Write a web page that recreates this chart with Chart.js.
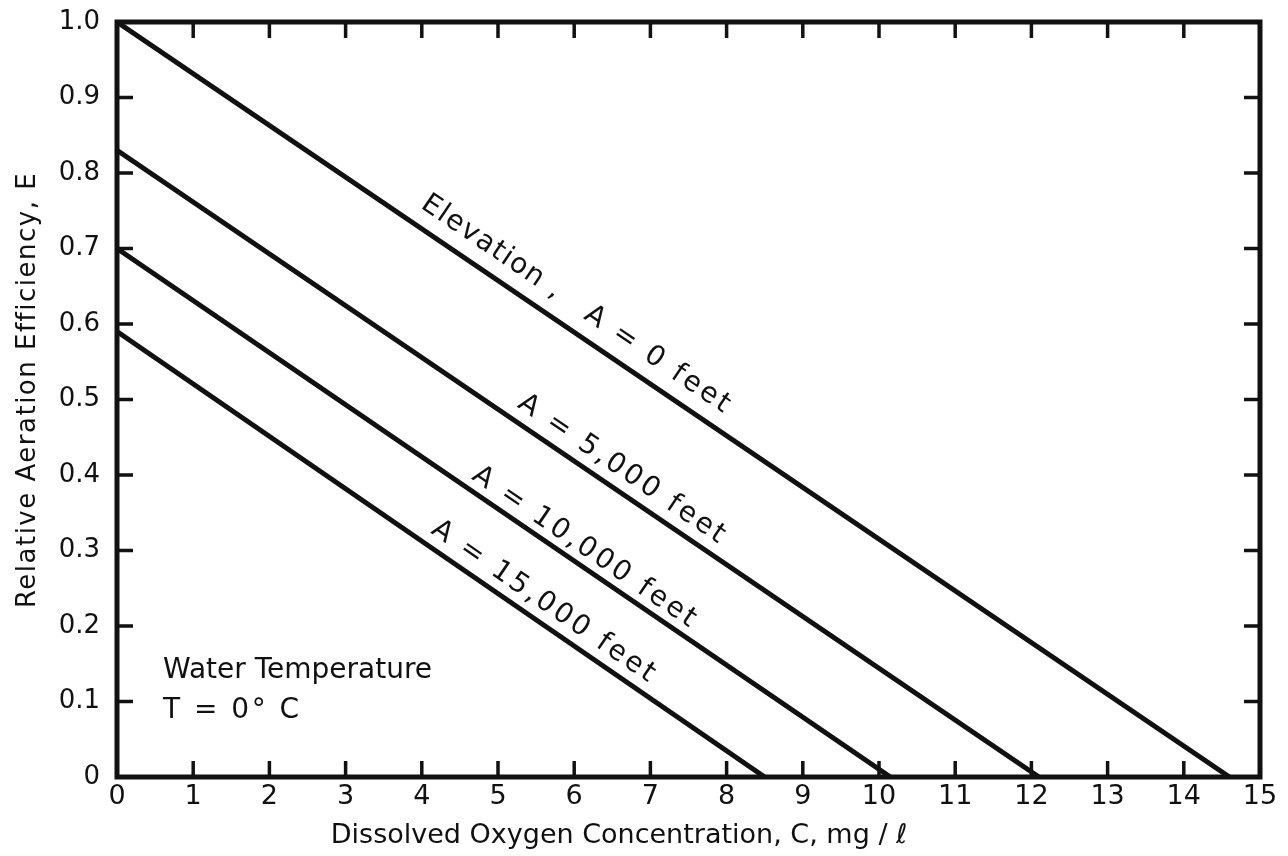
<!DOCTYPE html>
<html>
<head>
<meta charset="utf-8">
<title>Relative Aeration Efficiency vs Dissolved Oxygen</title>
<script src="https://cdn.jsdelivr.net/npm/chart.js@4.4.1/dist/chart.umd.min.js"></script>
<style>
  html, body { margin: 0; padding: 0; background: #ffffff; }
  #wrap { width: 1288px; height: 856px; }
</style>
</head>
<body>
<div id="wrap"><canvas id="chart" width="1288" height="856"></canvas></div>
<script>
// Tick labels
const xTickLabels = ['0','1','2','3','4','5','6','7','8','9','10','11','12','13','14','15'];
const yTickLabels = ['0','0.1','0.2','0.3','0.4','0.5','0.6','0.7','0.8','0.9','1.0'];

// One straight line per elevation: efficiency at C = 0 and the concentration where E reaches 0
const elevationsFt       = ['0', '5,000', '10,000', '15,000'];
const efficiencyAtZeroDO = [1.00, 0.83, 0.70, 0.59];
const doAtZeroEfficiency = [14.6, 12.1, 10.15, 8.5];

const INK = '#111111';
const FONT = '"DejaVu Sans", "Liberation Sans", sans-serif';

// Labels written along the lines: which line, where along it (in mg/l), gap above it (px)
const lineNotes = [
  { line: 0, text: 'Elevation ,',     at: 3.85, gap: 24, spacing: '1.5px' },
  { line: 0, text: 'A = 0 feet',      at: 5.99, gap: 24, spacing: '3px' },
  { line: 1, text: 'A = 5,000 feet',  at: 5.15, gap: 20, spacing: '3px' },
  { line: 2, text: 'A = 10,000 feet', at: 4.57, gap: 17, spacing: '3px' },
  { line: 3, text: 'A = 15,000 feet', at: 4.02, gap: 19, spacing: '3px' }
];

const datasets = elevationsFt.map((elev, i) => ({
  label: 'A = ' + elev + ' feet',
  data: [
    { x: 0, y: efficiencyAtZeroDO[i] },
    { x: doAtZeroEfficiency[i], y: 0 }
  ],
  borderColor: INK,
  borderWidth: 5,
  pointRadius: 0,
  tension: 0,
  fill: false
}));

// Inward tick marks on all four sides plus the heavy frame
const framePlugin = {
  id: 'frame',
  afterDatasetsDraw(chart) {
    const { ctx, chartArea: a, scales: { x, y } } = chart;
    const len = 16;
    ctx.save();
    ctx.strokeStyle = INK;
    ctx.lineWidth = 3.5;
    ctx.lineCap = 'butt';
    ctx.beginPath();
    x.ticks.forEach(t => {
      if (t.value <= x.min || t.value >= x.max) return;
      const px = x.getPixelForValue(t.value);
      ctx.moveTo(px, a.bottom); ctx.lineTo(px, a.bottom - len);
      ctx.moveTo(px, a.top);    ctx.lineTo(px, a.top + len);
    });
    y.ticks.forEach(t => {
      if (t.value <= y.min + 1e-9 || t.value >= y.max - 1e-9) return;
      const py = y.getPixelForValue(t.value);
      ctx.moveTo(a.left, py);  ctx.lineTo(a.left + len, py);
      ctx.moveTo(a.right, py); ctx.lineTo(a.right - len, py);
    });
    ctx.stroke();
    ctx.lineWidth = 5;
    ctx.lineJoin = 'miter';
    ctx.strokeRect(a.left, a.top, a.right - a.left, a.bottom - a.top);
    ctx.restore();
  }
};

// Axis titles, the temperature note and the labels along the lines
const textPlugin = {
  id: 'texts',
  afterDraw(chart) {
    const { ctx, chartArea: a, scales: { x, y } } = chart;
    ctx.save();
    ctx.fillStyle = INK;

    // labels along each line
    ctx.font = '28px ' + FONT;
    ctx.textAlign = 'left';
    ctx.textBaseline = 'middle';
    lineNotes.forEach(n => {
      const x0 = x.getPixelForValue(0), y0 = y.getPixelForValue(efficiencyAtZeroDO[n.line]);
      const x1 = x.getPixelForValue(doAtZeroEfficiency[n.line]), y1 = y.getPixelForValue(0);
      const ang = Math.atan2(y1 - y0, x1 - x0);
      const t = n.at / doAtZeroEfficiency[n.line];
      const px = x0 + t * (x1 - x0) + Math.sin(ang) * n.gap;
      const py = y0 + t * (y1 - y0) - Math.cos(ang) * n.gap;
      ctx.save();
      ctx.letterSpacing = n.spacing;
      ctx.translate(px, py);
      ctx.rotate(ang);
      ctx.fillText(n.text, 0, 0);
      ctx.restore();
    });

    // water temperature note
    ctx.textBaseline = 'alphabetic';
    ctx.font = '28px ' + FONT;
    ctx.letterSpacing = '0px';
    ctx.fillText('Water Temperature', a.left + 46, 678);
    ctx.letterSpacing = '2.5px';
    ctx.fillText('T = 0° C', a.left + 46, 718);

    // x axis title
    ctx.letterSpacing = '0px';
    ctx.font = '27px ' + FONT;
    ctx.textAlign = 'center';
    ctx.fillText('Dissolved Oxygen Concentration, C, mg / ℓ', 619, 843);

    // y axis title
    ctx.save();
    ctx.translate(35, 390);
    ctx.rotate(-Math.PI / 2);
    ctx.font = '26px ' + FONT;
    ctx.letterSpacing = '1.5px';
    ctx.fillText('Relative Aeration Efficiency, E', 0, 0);
    ctx.restore();

    ctx.restore();
  }
};

new Chart(document.getElementById('chart'), {
  type: 'line',
  data: { datasets },
  options: {
    responsive: false,
    animation: false,
    layout: { padding: { top: 22, right: 28, bottom: 0, left: 0 } },
    plugins: { legend: { display: false }, tooltip: { enabled: false } },
    scales: {
      x: {
        type: 'linear',
        min: 0, max: 15,
        afterFit(scale) {
          scale.height = 79;
          scale.paddingLeft = 0;
          scale.paddingRight = 0;
        },
        grid: { display: false, drawTicks: false },
        border: { display: false },
        ticks: {
          stepSize: 1,
          padding: 4,
          color: INK,
          font: { family: FONT, size: 27 },
          callback: (v, i) => xTickLabels[i]
        }
      },
      y: {
        type: 'linear',
        min: 0, max: 1,
        afterFit(scale) {
          scale.width = 117;
          scale.paddingTop = 0;
          scale.paddingBottom = 0;
        },
        grid: { display: false, drawTicks: false },
        border: { display: false },
        ticks: {
          stepSize: 0.1,
          padding: 17,
          color: INK,
          font: { family: FONT, size: 26 },
          callback: (v, i) => yTickLabels[i]
        }
      }
    }
  },
  plugins: [framePlugin, textPlugin]
});
</script>
</body>
</html>
